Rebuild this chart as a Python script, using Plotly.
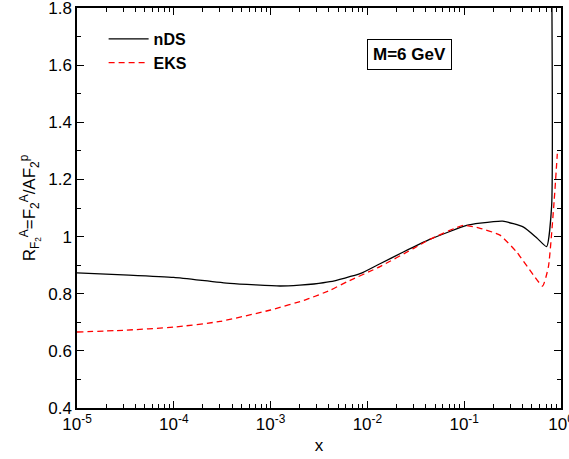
import plotly.graph_objects as go

# nDS curve
nds_x = [1e-5, 3e-5, 1e-4, 3.8e-4, 1.25e-3, 2e-3, 2.8e-3, 4.1e-3, 8.4e-3, 1.35e-2, 2.35e-2, 4.4e-2, 0.106, 0.146, 0.250, 0.41, 0.56, 0.71, 0.80, 0.801]
nds_y = [0.873, 0.866, 0.857, 0.836, 0.827, 0.830, 0.834, 0.842, 0.870, 0.905, 0.946, 0.990, 1.039, 1.047, 1.054, 1.033, 0.996, 0.965, 1.106, 1.95]

# EKS curve
eks_x = [1e-5, 3e-5, 1e-4, 3e-4, 1e-3, 2.36e-3, 4.1e-3, 6.1e-3, 1.35e-2, 2.98e-2, 4.4e-2, 0.098, 0.146, 0.234, 0.35, 0.52, 0.645, 0.74, 0.85, 0.916]
eks_y = [0.666, 0.672, 0.683, 0.703, 0.743, 0.780, 0.812, 0.841, 0.895, 0.958, 0.990, 1.039, 1.029, 1.005, 0.945, 0.865, 0.827, 0.893, 1.126, 1.29]

x_tickvals = [1e-5, 1e-4, 1e-3, 1e-2, 1e-1, 1]
x_ticktext = ["10<sup>-5</sup>", "10<sup>-4</sup>", "10<sup>-3</sup>", "10<sup>-2</sup>", "10<sup>-1</sup>", "10<sup>0</sup>"]
y_tickvals = [0.4, 0.6, 0.8, 1.0, 1.2, 1.4, 1.6, 1.8]
y_ticktext = ["0.4", "0.6", "0.8", "1", "1.2", "1.4", "1.6", "1.8"]

font_family = "Liberation Sans, Arial, sans-serif"

fig = go.Figure()
fig.add_trace(go.Scatter(x=nds_x, y=nds_y, mode="lines", name="<b>nDS</b>",
                         line=dict(color="black", width=1.3, shape="spline", smoothing=0.5)))
fig.add_trace(go.Scatter(x=eks_x, y=eks_y, mode="lines", name="<b>EKS</b>",
                         line=dict(color="red", width=1.3, dash="6px,4px", shape="spline", smoothing=0.5)))

fig.add_annotation(x=0.686, y=0.885, xref="paper", yref="paper", xanchor="center", yanchor="middle",
                   text="<b>M=6 GeV</b>",
                   showarrow=False, font=dict(size=17, color="black", family=font_family),
                   bordercolor="black", borderwidth=1, borderpad=5, bgcolor="white")

fig.update_layout(
    width=569, height=459,
    margin=dict(l=77, r=8, t=8, b=51),
    paper_bgcolor="white", plot_bgcolor="white",
    font=dict(family=font_family, size=17, color="black"),
    showlegend=True,
    legend=dict(x=0.055, y=0.965, xanchor="left", yanchor="top",
                font=dict(size=16, color="black", family=font_family),
                bgcolor="rgba(0,0,0,0)", tracegroupgap=0, itemwidth=40),
    xaxis=dict(type="log", range=[-5, 0], tickvals=x_tickvals, ticktext=x_ticktext,
               ticks="inside", ticklen=7, tickwidth=1, tickcolor="black",
               showline=True, linecolor="black", linewidth=1.5, mirror="ticks",
               showgrid=False, zeroline=False, automargin=False, ticklabeloverflow="allow",
               tickfont=dict(size=17),
               minor=dict(ticks="inside", ticklen=4, tickcolor="black", dtick="D1", showgrid=False),
               title=dict(text="x", font=dict(size=17), standoff=6)),
    yaxis=dict(range=[0.4, 1.8], tickvals=y_tickvals, ticktext=y_ticktext,
               ticks="inside", ticklen=7, tickwidth=1, tickcolor="black",
               showline=True, linecolor="black", linewidth=1.5, mirror="ticks",
               showgrid=False, zeroline=False, automargin=False, ticklabeloverflow="allow",
               tickfont=dict(size=17),
               minor=dict(ticks="inside", ticklen=4, tickcolor="black", dtick=0.1, showgrid=False),
               title=dict(text="R<sub>F<sub>2</sub></sub><sup>A</sup>=F<sub>2</sub><sup>A</sup>/AF<sub>2</sub><sup>p</sup>",
                          font=dict(size=17), standoff=8)),
)

fig.write_html("out.html", config={"displayModeBar": False})

# remove the default page margin so the figure sits at the window's top-left corner
with open("out.html", "r", encoding="utf-8") as f:
    html = f.read()
html = html.replace("<head>", "<head><style>html,body{margin:0;padding:0;overflow:hidden;}</style>", 1)
with open("out.html", "w", encoding="utf-8") as f:
    f.write(html)
